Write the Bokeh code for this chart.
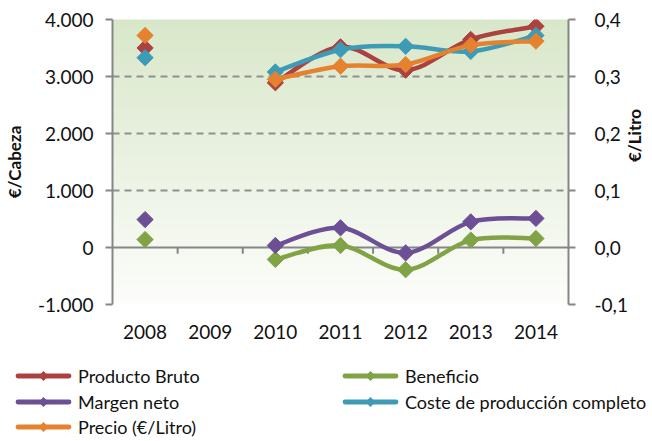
import math
from bokeh.plotting import figure
from bokeh.layouts import column
from bokeh.models import (Range1d, LinearAxis, FixedTicker, CustomJSTickFormatter, Span,
                          BoxAnnotation, ColumnDataSource, Div)
from bokeh.embed import file_html
from bokeh.resources import INLINE

# ---------------- data ----------------
years = ["2008", "2009", "2010", "2011", "2012", "2013", "2014"]
producto_bruto = [3500, None, 2890, 3520, 3110, 3650, 3880]          # €/Cabeza
beneficio = [140, None, -210, 35, -390, 130, 158]                    # €/Cabeza
margen_neto = [490, None, 35, 345, -95, 450, 510]                    # €/Cabeza
coste_produccion = [3330, None, 3080, 3470, 3530, 3440, 3720]        # €/Cabeza
precio_litro = [0.372, None, 0.295, 0.318, 0.321, 0.355, 0.362]      # €/Litro

left_ticks = [-1000, 0, 1000, 2000, 3000, 4000]
right_ticks = [-0.1, 0.0, 0.1, 0.2, 0.3, 0.4]

FONT = "Lato"
AXIS_GRAY = "#868686"
TEXT = "#111111"

xpos = list(range(1, len(years) + 1))

p = figure(width=636, height=352, frame_width=456, frame_height=285,
           min_border_left=102, min_border_right=78, min_border_top=19, min_border_bottom=48,
           x_range=Range1d(0.5, len(years) + 0.5), y_range=Range1d(left_ticks[0], left_ticks[-1]),
           output_backend="svg", toolbar_location=None)
p.extra_y_ranges = {"litro": Range1d(right_ticks[0], right_ticks[-1])}
p.outline_line_color = None
p.background_fill_color = "white"
p.border_fill_color = "white"

# ---- background gradient ----
n = 60
top_c = (216, 231, 201)
bot_c = (252, 253, 250)
span_v = left_ticks[-1] - left_ticks[0]
for i in range(n):
    f = (i + 0.5) / n
    c = tuple(int(round(bot_c[k] + (top_c[k] - bot_c[k]) * f)) for k in range(3))
    b = left_ticks[0] + span_v * i / n
    t = left_ticks[0] + span_v * (i + 1) / n + span_v * 0.003
    p.add_layout(BoxAnnotation(bottom=b, top=t, fill_color="#%02x%02x%02x" % c, fill_alpha=1.0,
                               line_color=None, level="image"))

# ---- grid ----
p.xgrid.grid_line_color = None
p.ygrid.ticker = FixedTicker(ticks=[v for v in left_ticks if v != 0])
p.ygrid.grid_line_color = "#8f8f8f"
p.ygrid.grid_line_width = 2
p.ygrid.grid_line_dash = "7 5"

# ---- zero axis line with category ticks ----
p.add_layout(Span(location=0, dimension="width", line_color=AXIS_GRAY, line_width=2, level="underlay"))
bounds = [i + 0.5 for i in range(1, len(years))]
p.segment(x0=bounds, y0=[0] * len(bounds), x1=bounds, y1=[-110] * len(bounds),
          line_color=AXIS_GRAY, line_width=2)

# ---- axes ----
p.xaxis.ticker = FixedTicker(ticks=xpos)
p.xaxis.major_label_overrides = {x: y for x, y in zip(xpos, years)}
p.xaxis.axis_line_color = None
p.xaxis.major_tick_line_color = None
p.xaxis.minor_tick_line_color = None
p.xaxis.major_label_standoff = 14
p.xaxis.major_label_text_font = FONT
p.xaxis.major_label_text_font_size = "19px"
p.xaxis.major_label_text_color = TEXT

ly = p.yaxis[0]
ly.ticker = FixedTicker(ticks=left_ticks)
ly.formatter = CustomJSTickFormatter(code="""
const s = Math.abs(tick).toFixed(0).replace(/\\B(?=(\\d{3})+(?!\\d))/g, '.');
return (tick < 0 ? '-' : '') + s;
""")
ly.axis_label = "€/Cabeza"

ry = LinearAxis(y_range_name="litro", ticker=FixedTicker(ticks=right_ticks),
                formatter=CustomJSTickFormatter(code="return tick.toFixed(1).replace('.', ',');"),
                axis_label="€/Litro")
p.add_layout(ry, "right")

for ax in (ly, ry):
    ax.axis_line_color = AXIS_GRAY
    ax.axis_line_width = 2
    ax.major_tick_line_color = AXIS_GRAY
    ax.major_tick_line_width = 2
    ax.major_tick_out = 7
    ax.major_tick_in = 0
    ax.minor_tick_line_color = None
    ax.major_label_text_font = FONT
    ax.major_label_text_font_size = "19px"
    ax.major_label_text_color = TEXT
    ax.axis_label_text_font = FONT
    ax.axis_label_text_font_size = "17px"
    ax.axis_label_text_font_style = "bold"
    ax.axis_label_text_color = TEXT
ly.major_label_standoff = 12
ly.axis_label_standoff = 10
ry.major_label_standoff = 19
ry.axis_label_standoff = 4
if "axis_label_orientation" in ry.properties():
    ry.axis_label_orientation = math.pi / 2


# ---- smoothed series ----
def bezier_source(xs, ys):
    runs, cur = [], []
    for x, y in zip(xs, ys):
        if y is None:
            if cur:
                runs.append(cur)
                cur = []
        else:
            cur.append((x, y))
    if cur:
        runs.append(cur)
    d = dict(x0=[], y0=[], x1=[], y1=[], cx0=[], cy0=[], cx1=[], cy1=[])
    for run in runs:
        m = len(run)
        for i in range(m - 1):
            pa = run[i - 1] if i > 0 else run[i]
            pb = run[i]
            pc = run[i + 1]
            pd = run[i + 2] if i + 2 < m else run[i + 1]
            d["x0"].append(pb[0]); d["y0"].append(pb[1])
            d["x1"].append(pc[0]); d["y1"].append(pc[1])
            d["cx0"].append(pb[0] + (pc[0] - pa[0]) / 6.0)
            d["cy0"].append(pb[1] + (pc[1] - pa[1]) / 6.0)
            d["cx1"].append(pc[0] - (pd[0] - pb[0]) / 6.0)
            d["cy1"].append(pc[1] - (pd[1] - pb[1]) / 6.0)
    return ColumnDataSource(d)


series = [
    ("Producto Bruto", producto_bruto, "#ab4240", "default"),
    ("Beneficio", beneficio, "#80a346", "default"),
    ("Margen neto", margen_neto, "#6c4f95", "default"),
    ("Coste de producción completo", coste_produccion, "#3d9bb6", "default"),
    ("Precio (€/Litro)", precio_litro, "#e4822f", "litro"),
]

colors = {}
for name, vals, color, rng in series:
    colors[name] = color
    src = bezier_source(xpos, vals)
    p.bezier(x0="x0", y0="y0", x1="x1", y1="y1", cx0="cx0", cy0="cy0", cx1="cx1", cy1="cy1",
             source=src, line_color=color, line_width=4.5, line_cap="round", y_range_name=rng)
    px = [x for x, v in zip(xpos, vals) if v is not None]
    py = [v for v in vals if v is not None]
    p.scatter(px, py, marker="square", angle=math.pi / 4, size=11.5, fill_color=color,
              line_color=color, line_width=1, y_range_name=rng)

# ---- legend (HTML block under the chart, two columns, row-major order) ----
col_left = [15, 342]
row_top = [15, 41, 66]
order = ["Producto Bruto", "Beneficio", "Margen neto", "Coste de producción completo", "Precio (€/Litro)"]
parts = []
for k, name in enumerate(order):
    c = colors[name]
    left = col_left[k % 2]
    top = row_top[k // 2]
    swatch = ('<svg width="57" height="18" style="display:block;flex:none">'
              f'<line x1="3" y1="9" x2="54" y2="9" stroke="{c}" stroke-width="4.8" stroke-linecap="round"/>'
              f'<polygon points="28.5,4 33.5,9 28.5,14 23.5,9" fill="{c}"/></svg>')
    parts.append(f'<div style="position:absolute;left:{left}px;top:{top}px;height:18px;display:flex;'
                 f'align-items:center;white-space:nowrap;">{swatch}'
                 f'<span style="margin-left:6px;font-family:{FONT};font-size:18px;line-height:18px;'
                 f'color:{TEXT};">{name}</span></div>')
legend_html = ('<div style="position:relative;width:636px;height:84px;background:white;">'
               + "".join(parts) + '</div>')
legend_div = Div(text=legend_html, width=636, height=84, margin=(0, 0, 0, 0))

layout = column(p, legend_div, spacing=0)
open("out.html", "w").write(file_html(layout, INLINE))
